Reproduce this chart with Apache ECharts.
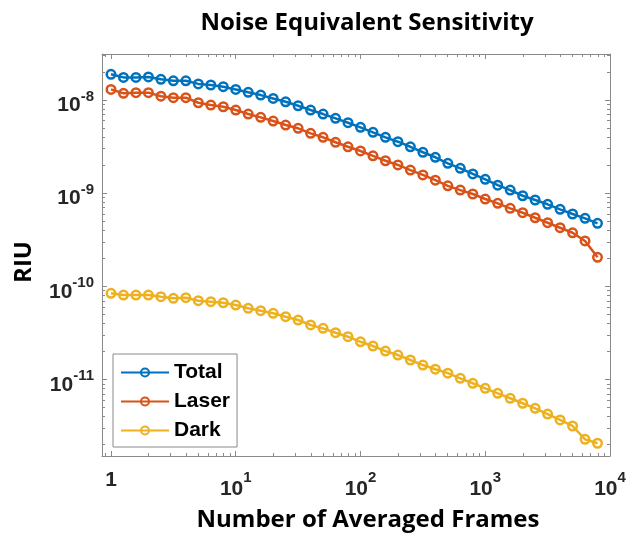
<!DOCTYPE html>
<html>
<head>
<meta charset="utf-8">
<script src="https://cdn.jsdelivr.net/npm/echarts@6/dist/echarts.min.js"></script>
<style>
  html, body { margin: 0; padding: 0; background: #fff; }
  #chart { width: 627px; height: 536px; }
</style>
</head>
<body>
<div id="chart"></div>
<script>
// Number of averaged frames (log-spaced, 10 points per decade)
const xFrames = [1, 1.259, 1.585, 1.995, 2.512, 3.162, 3.981, 5.012, 6.310, 7.943,
  10, 12.59, 15.85, 19.95, 25.12, 31.62, 39.81, 50.12, 63.10, 79.43,
  100, 125.9, 158.5, 199.5, 251.2, 316.2, 398.1, 501.2, 631.0, 794.3,
  1000, 1259, 1585, 1995, 2512, 3162, 3981, 5012, 6310, 7943];

// Noise equivalent sensitivity, RIU
const totalRIU = [1.89e-8, 1.75e-8, 1.75e-8, 1.77e-8, 1.67e-8, 1.61e-8, 1.61e-8, 1.49e-8, 1.45e-8, 1.39e-8,
  1.30e-8, 1.21e-8, 1.13e-8, 1.04e-8, 9.58e-9, 8.68e-9, 7.81e-9, 7.07e-9, 6.36e-9, 5.71e-9,
  5.09e-9, 4.50e-9, 3.98e-9, 3.57e-9, 3.15e-9, 2.75e-9, 2.43e-9, 2.09e-9, 1.85e-9, 1.61e-9,
  1.41e-9, 1.22e-9, 1.08e-9, 9.39e-10, 8.45e-10, 7.60e-10, 6.71e-10, 5.98e-10, 5.37e-10, 4.75e-10];

const laserRIU = [1.30e-8, 1.18e-8, 1.20e-8, 1.20e-8, 1.10e-8, 1.06e-8, 1.06e-8, 9.35e-9, 8.84e-9, 8.47e-9,
  7.81e-9, 7.07e-9, 6.52e-9, 5.95e-9, 5.39e-9, 4.97e-9, 4.39e-9, 3.98e-9, 3.52e-9, 3.15e-9,
  2.84e-9, 2.52e-9, 2.23e-9, 2.01e-9, 1.77e-9, 1.57e-9, 1.38e-9, 1.20e-9, 1.08e-9, 9.80e-10,
  8.66e-10, 7.78e-10, 6.88e-10, 6.17e-10, 5.45e-10, 4.82e-10, 4.26e-10, 3.76e-10, 3.07e-10, 2.05e-10];

const darkRIU = [8.42e-11, 8.07e-11, 8.07e-11, 8.07e-11, 7.74e-11, 7.44e-11, 7.55e-11, 7.01e-11, 6.84e-11, 6.67e-11,
  6.30e-11, 5.81e-11, 5.48e-11, 5.14e-11, 4.72e-11, 4.35e-11, 3.85e-11, 3.54e-11, 3.18e-11, 2.88e-11,
  2.54e-11, 2.29e-11, 2.02e-11, 1.83e-11, 1.62e-11, 1.43e-11, 1.29e-11, 1.17e-11, 1.03e-11, 9.11e-12,
  8.05e-12, 7.11e-12, 6.29e-12, 5.56e-12, 4.91e-12, 4.26e-12, 3.68e-12, 3.17e-12, 2.28e-12, 2.07e-12];

const seriesNames = ['Total', 'Laser', 'Dark'];
const seriesColors = ['#0072BD', '#D95319', '#EDB120'];

// Major tick positions and their labels
const xTickValues = [1, 10, 100, 1000, 10000];
const xTickLabels = ['1', '10^1', '10^2', '10^3', '10^4'];
const yTickValues = [1e-11, 1e-10, 1e-9, 1e-8];
const yTickLabels = ['10^-11', '10^-10', '10^-9', '10^-8'];

// Axis limits
const xMin = 0.847, xMax = 10000;
const yMin = 1.51e-12, yMax = 3.12e-8;

// Minor ticks at 2..9 within each decade
function minorTicks(firstDecade, lastDecade) {
  const out = [];
  for (let d = firstDecade; d <= lastDecade; d++) {
    for (let m = 2; m <= 9; m++) out.push(m * Math.pow(10, d));
  }
  return out;
}
const xMinor = minorTicks(-1, 3);
const yMinor = minorTicks(-12, -8);

function labelText(values, labels) {
  return function (v) {
    const i = values.findIndex(t => Math.abs(Math.log10(t / v)) < 1e-6);
    if (i < 0) return '';
    const s = labels[i];
    const p = s.indexOf('^');
    if (p < 0) return '{one|' + s + '}';
    return '{b|' + s.slice(0, p) + '}{e|' + s.slice(p + 1) + '}';
  };
}

const axisColor = '#8a8a8a';
const labelColor = '#262626';
const tickFont = '"Liberation Sans", Arial, sans-serif';
const titleFont = '"Open Sans", sans-serif';

const gridRect = { left: 102, top: 54, width: 508, height: 402, outerBoundsMode: 'none', containLabel: false };

function logAxis(dim, gridIndex, position, opts) {
  const isX = dim === 'x';
  return Object.assign({
    type: 'log',
    logBase: 10,
    gridIndex: gridIndex,
    position: position,
    min: isX ? xMin : yMin,
    max: isX ? xMax : yMax,
    axisLine: { show: false },
    axisTick: { show: false },
    axisLabel: { show: false },
    splitLine: { show: false },
    minorTick: { show: false },
    minorSplitLine: { show: false }
  }, opts);
}

// Rich styles for "10" with a raised exponent; baseDrop pushes the base digits down
function richSet(baseDrop) {
  const base = { fontFamily: tickFont, fontWeight: 'bold', color: labelColor };
  return {
    one: Object.assign({}, base, { fontSize: 21, lineHeight: 21, verticalAlign: 'top' }),
    b: Object.assign({}, base, { fontSize: 21, lineHeight: 22, verticalAlign: 'top', padding: [baseDrop, 0, 0, 0] }),
    e: Object.assign({}, base, { fontSize: 15, lineHeight: 16, verticalAlign: 'top' })
  };
}

const xAxes = [
  // bottom: major ticks, labels and axis line
  logAxis('x', 0, 'bottom', {
    axisLine: { show: true, lineStyle: { color: axisColor, width: 1 } },
    axisTick: { show: true, inside: true, length: 5, lineStyle: { color: axisColor }, customValues: xTickValues },
    axisLabel: {
      show: true, margin: 14, customValues: xTickValues,
      fontFamily: tickFont, fontWeight: 'bold', fontSize: 21, color: labelColor,
      formatter: labelText(xTickValues, xTickLabels), rich: richSet(8.5)
    }
  }),
  // bottom: minor ticks
  logAxis('x', 1, 'bottom', {
    axisTick: { show: true, inside: true, length: 3, lineStyle: { color: axisColor }, customValues: xMinor }
  }),
  // top: box edge with major ticks
  logAxis('x', 2, 'top', {
    axisLine: { show: true, lineStyle: { color: axisColor, width: 1 } },
    axisTick: { show: true, inside: true, length: 5, lineStyle: { color: axisColor }, customValues: xTickValues }
  }),
  // top: minor ticks
  logAxis('x', 3, 'top', {
    axisTick: { show: true, inside: true, length: 3, lineStyle: { color: axisColor }, customValues: xMinor }
  })
];

const yAxes = [
  logAxis('y', 0, 'left', {
    axisLine: { show: true, lineStyle: { color: axisColor, width: 1 } },
    axisTick: { show: true, inside: true, length: 5, lineStyle: { color: axisColor }, customValues: yTickValues },
    axisLabel: {
      show: true, margin: 8, customValues: yTickValues,
      fontFamily: tickFont, fontWeight: 'bold', fontSize: 21, color: labelColor,
      formatter: labelText(yTickValues, yTickLabels), rich: richSet(6)
    }
  }),
  logAxis('y', 1, 'left', {
    axisTick: { show: true, inside: true, length: 3, lineStyle: { color: axisColor }, customValues: yMinor }
  }),
  logAxis('y', 2, 'right', {
    axisLine: { show: true, lineStyle: { color: axisColor, width: 1 } },
    axisTick: { show: true, inside: true, length: 5, lineStyle: { color: axisColor }, customValues: yTickValues }
  }),
  logAxis('y', 3, 'right', {
    axisTick: { show: true, inside: true, length: 3, lineStyle: { color: axisColor }, customValues: yMinor }
  })
];

const seriesData = [totalRIU, laserRIU, darkRIU];

const series = seriesNames.map((name, s) => ({
  name: name,
  type: 'line',
  xAxisIndex: 0,
  yAxisIndex: 0,
  data: xFrames.map((x, i) => [x, seriesData[s][i]]),
  symbol: 'circle',
  symbolSize: 8.5,
  showSymbol: true,
  animation: false,
  itemStyle: { color: 'rgba(255,255,255,0)', borderColor: seriesColors[s], borderWidth: 2.5 },
  lineStyle: { color: seriesColors[s], width: 2.5 },
  emphasis: { disabled: true },
  z: 3 + s
}));

const chart = echarts.init(document.getElementById('chart'), null, { renderer: 'canvas' });
chart.setOption({
  animation: false,
  backgroundColor: '#ffffff',
  title: [
    {
      text: 'Noise Equivalent Sensitivity',
      left: 362, top: 6, textAlign: 'center',
      textStyle: { fontFamily: titleFont, fontWeight: 'bold', fontSize: 24, color: '#000' }
    },
    {
      text: 'Number of Averaged Frames',
      left: 363, top: 503, textAlign: 'center',
      textStyle: { fontFamily: titleFont, fontWeight: 'bold', fontSize: 24, color: '#000' }
    }
  ],
  graphic: [{
    type: 'text',
    x: 24, y: 262, rotation: Math.PI / 2,
    style: { text: 'RIU', fontFamily: titleFont, fontWeight: 'bold', fontSize: 24, fill: '#000', align: 'center', verticalAlign: 'middle' }
  }],
  legend: {
    data: seriesNames,
    orient: 'vertical',
    left: 113, top: 354,
    padding: [8, 7, 6, 7],
    itemWidth: 48, itemHeight: 10, itemGap: 8,
    backgroundColor: '#fff',
    borderColor: '#8a8a8a', borderWidth: 1, borderRadius: 0,
    textStyle: { fontFamily: tickFont, fontWeight: 'bold', fontSize: 21, color: '#000', lineHeight: 20 }
  },
  grid: [gridRect, gridRect, gridRect, gridRect].map(g => Object.assign({}, g)),
  xAxis: xAxes,
  yAxis: yAxes,
  series: series
});
</script>
</body>
</html>
